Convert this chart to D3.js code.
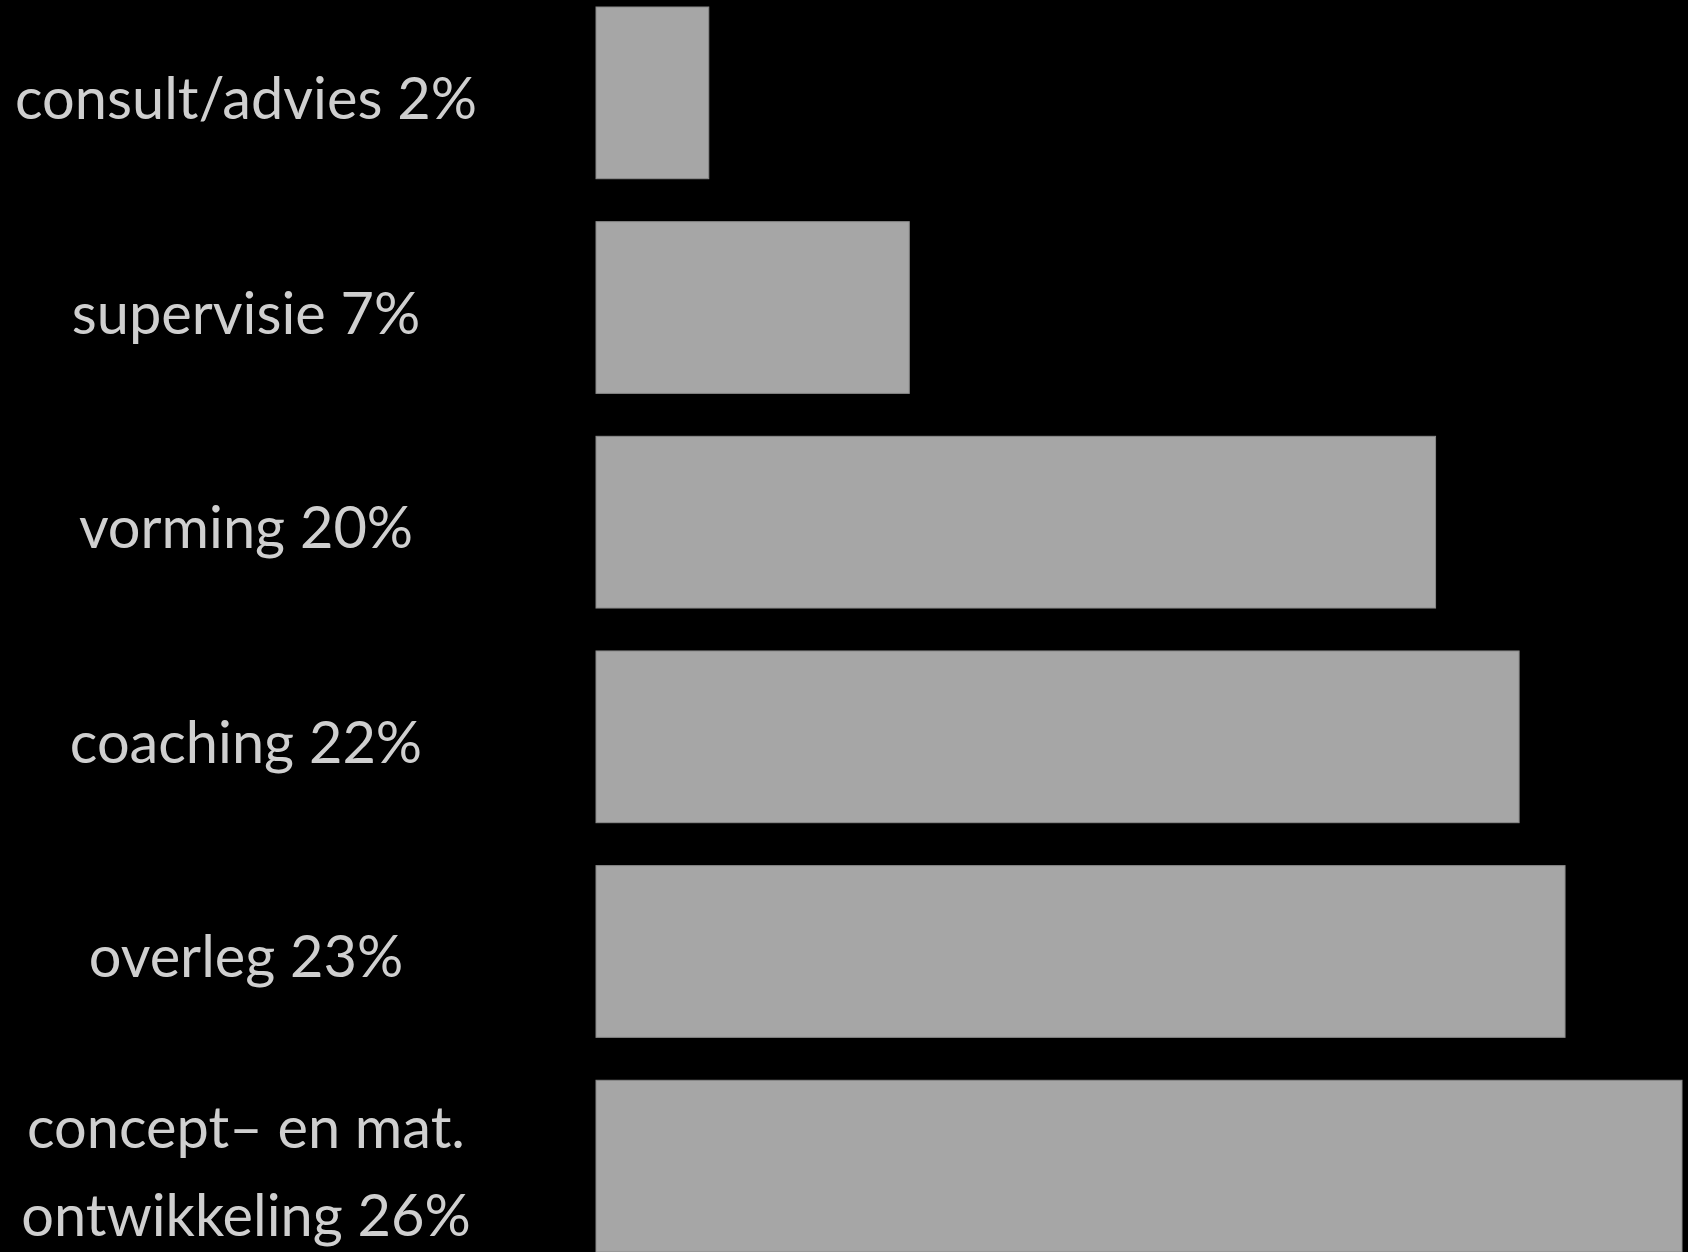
<!DOCTYPE html>
<html lang="nl">
<head>
<meta charset="utf-8">
<title>Activiteiten</title>
<style>
  html, body { margin: 0; padding: 0; background: #000; }
  svg { display: block; }
</style>
</head>
<body>
<script src="https://d3js.org/d3.v7.min.js"></script>
<script>
  // data
  const categories = ["consult/advies", "supervisie", "vorming", "coaching", "overleg", "concept\u2013 en mat. ontwikkeling"];
  const percents = [2, 7, 20, 22, 23, 26];           // printed in the labels
  const barValues = [2.7, 7.5, 20.1, 22.1, 23.2, 26]; // bar lengths as drawn

  const width = 1688, height = 1252;
  const barLeft = 596, barRight = 1682;
  const labelX = 246;

  const svg = d3.select("body").append("svg")
      .attr("width", width)
      .attr("height", height);

  const yScale = d3.scaleBand()
      .domain(categories)
      .range([7, 1252])
      .paddingInner(0.2)
      .paddingOuter(0);

  const xScale = d3.scaleLinear()
      .domain([0, d3.max(barValues)])
      .range([barLeft, barRight]);

  const rows = categories.map((c, i) => ({cat: c, pct: percents[i], val: barValues[i]}));

  // bars
  svg.selectAll("rect.bar")
      .data(rows)
      .enter()
      .append("rect")
      .attr("class", "bar")
      .attr("x", xScale(0))
      .attr("y", d => yScale(d.cat))
      .attr("width", d => xScale(d.val) - xScale(0))
      .attr("height", yScale.bandwidth())
      .style("fill", "#a6a6a6")
      .style("stroke", "#8a8a8a")
      .style("stroke-width", 1);

  // work out font size so the first label gets its width from the picture
  const fontFamily = "Lato, 'Open Sans', sans-serif";
  const probe = svg.append("text")
      .style("font-family", fontFamily)
      .style("font-size", "100px")
      .text(categories[0] + " " + percents[0] + "%");
  const probeW = probe.node().getComputedTextLength();
  probe.remove();
  const fontSize = 100 * 462 / probeW;
  const maxLine = 480;
  const lineGap = 88;

  // labels, wrapped when too wide
  const labels = svg.selectAll("text.label")
      .data(rows)
      .enter()
      .append("text")
      .attr("class", "label")
      .attr("text-anchor", "middle")
      .style("font-family", fontFamily)
      .style("font-size", fontSize + "px")
      .style("fill", "#cfcfcf");

  labels.each(function(d) {
    const t = d3.select(this);
    const words = (d.cat + " " + d.pct + "%").split(" ");
    const lines = [];
    let cur = [];
    const tmp = t.append("tspan");
    words.forEach(w => {
      const test = cur.concat([w]).join(" ");
      tmp.text(test);
      if (cur.length && tmp.node().getComputedTextLength() > maxLine) {
        lines.push(cur.join(" "));
        cur = [w];
      } else {
        cur.push(w);
      }
    });
    lines.push(cur.join(" "));
    tmp.remove();

    const mid = yScale(d.cat) + yScale.bandwidth() / 2 + 26;
    const first = mid - (lines.length - 1) * lineGap / 2;
    lines.forEach((ln, k) => {
      t.append("tspan")
          .attr("x", labelX)
          .attr("y", first + k * lineGap)
          .text(ln);
    });
  });
</script>
</body>
</html>
